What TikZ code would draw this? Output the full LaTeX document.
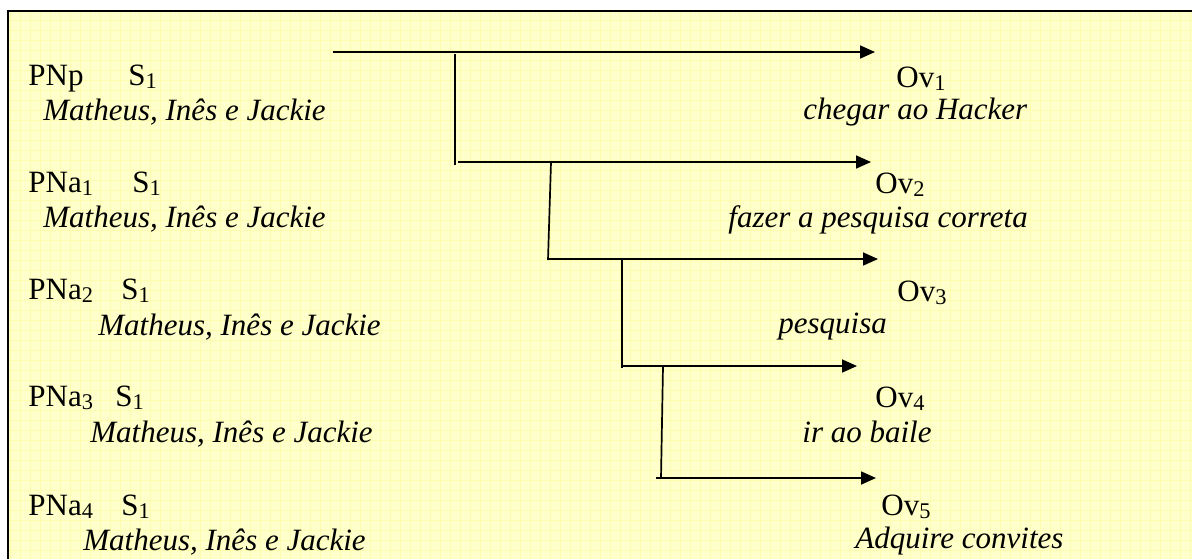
\documentclass[tikz,border=0pt]{standalone}
\usepackage{fontspec}
\setmainfont{Liberation Serif}
\usetikzlibrary{arrows.meta}
\definecolor{bgc}{RGB}{255,255,204}
\definecolor{gridc}{RGB}{252,252,172}
\newcommand\sbs[1]{\raisebox{-1.5pt}{\fontsize{11.2}{11}\selectfont #1}}
\tikzset{
  txt/.style={anchor=base west, inner sep=0pt, font=\fontsize{15.5}{18}\selectfont},
  itx/.style={txt, font=\fontsize{15.5}{18}\selectfont\itshape},
  ln/.style={line width=0.85pt, black},
  arr/.style={ln, -{Triangle[length=7.5pt,width=6.5pt]}},
  frame/.style={line width=1.1pt, black}
}
\begin{document}
\begin{tikzpicture}[x=0.5pt,y=-0.5pt]
\useasboundingbox (0,0) rectangle (1192,559);
\clip (0,0) rectangle (1192,559);
% background
\fill[bgc] (8,11) rectangle (1192,559);
\draw[gridc, line width=0.3pt] (8,11) grid[step=5pt] (1192,559);
% frame
\draw[frame] (8,559) -- (8,11) -- (1192,11);

% left column
\node[txt] (pnp) at (28,85) {PNp};
\node[txt] (s0) at (128,85) {S\sbs{1}};
\node[itx] (m0) at (43,120) {Matheus, Inês e Jackie};

\node[txt] (pna1) at (28,192) {PNa\sbs{1}};
\node[txt] (s1) at (132,192) {S\sbs{1}};
\node[itx] (m1) at (43,227) {Matheus, Inês e Jackie};

\node[txt] (pna2) at (28,299) {PNa\sbs{2}};
\node[txt] (s2) at (121,299) {S\sbs{1}};
\node[itx] (m2) at (98,335) {Matheus, Inês e Jackie};

\node[txt] (pna3) at (28,406) {PNa\sbs{3}};
\node[txt] (s3) at (115,406) {S\sbs{1}};
\node[itx] (m3) at (90,442) {Matheus, Inês e Jackie};

\node[txt] (pna4) at (28,515) {PNa\sbs{4}};
\node[txt] (s4) at (121,515) {S\sbs{1}};
\node[itx] (m4) at (83,550) {Matheus, Inês e Jackie};

% right column
\node[txt] (ov1) at (896,87) {Ov\sbs{1}};
\node[itx] (o1) at (803,119) {chegar ao Hacker};
\node[txt] (ov2) at (875,193) {Ov\sbs{2}};
\node[itx] (o2) at (728,227) {fazer a pesquisa correta};
\node[txt] (ov3) at (897,301) {Ov\sbs{3}};
\node[itx] (o3) at (778,333) {pesquisa};
\node[txt] (ov4) at (875,407) {Ov\sbs{4}};
\node[itx] (o4) at (802,442) {ir ao baile};
\node[txt] (ov5) at (881,515) {Ov\sbs{5}};
\node[itx] (o5) at (855,548) {Adquire convites};

% connector points
\coordinate (a0) at (333,52);
\coordinate (t1) at (875,52);
\coordinate (v1t) at (455,54);
\coordinate (v1b) at (455,165);
\coordinate (a1) at (458,162);
\coordinate (t2) at (871,162);
\coordinate (v2t) at (551,162);
\coordinate (v2b) at (548,260);
\coordinate (a2) at (548,259);
\coordinate (t3) at (878,259);
\coordinate (v3t) at (622,259);
\coordinate (v3b) at (622,368);
\coordinate (a3) at (622,366);
\coordinate (t4) at (857,366);
\coordinate (v4t) at (663,366);
\coordinate (v4b) at (661,478);
\coordinate (a4) at (656,478);
\coordinate (t5) at (876,478);

\draw[arr] (a0) -- (t1);
\draw[ln] (v1t) -- (v1b);
\draw[arr] (a1) -- (t2);
\draw[ln] (v2t) -- (v2b);
\draw[arr] (a2) -- (t3);
\draw[ln] (v3t) -- (v3b);
\draw[arr] (a3) -- (t4);
\draw[ln] (v4t) -- (v4b);
\draw[arr] (a4) -- (t5);
\end{tikzpicture}
\end{document}
